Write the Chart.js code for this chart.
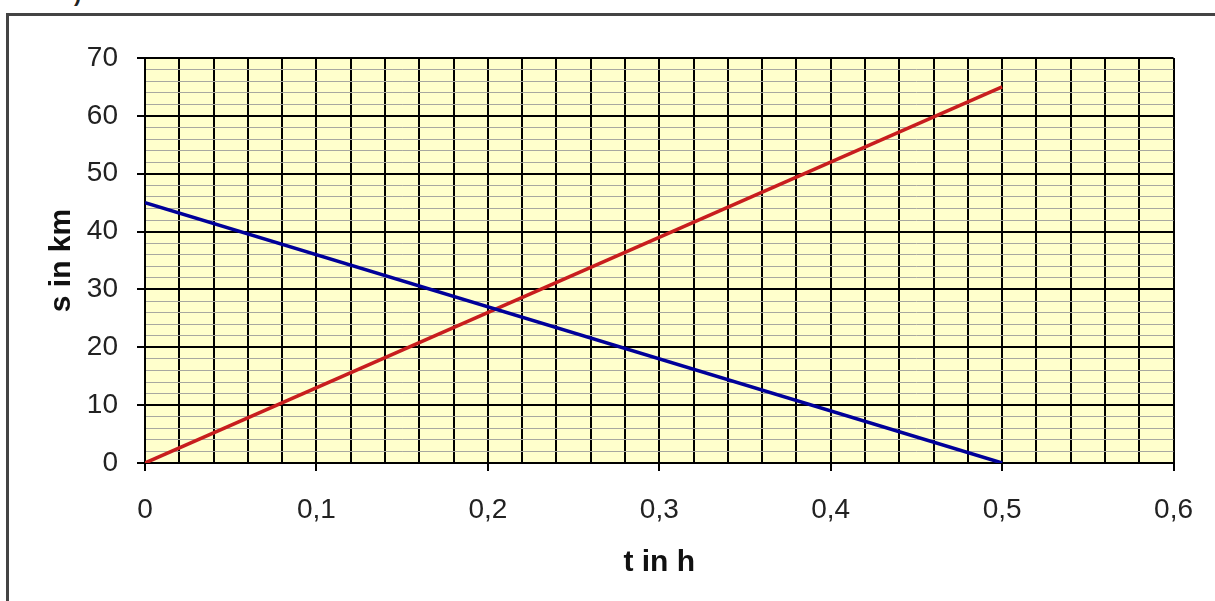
<!DOCTYPE html>
<html>
<head>
<meta charset="utf-8">
<title>s-t Diagramm</title>
<script src="https://cdn.jsdelivr.net/npm/chart.js@4/dist/chart.umd.min.js"></script>
<style>
  html, body { margin: 0; padding: 0; background: #fff; overflow: hidden; }
  #wrap { position: relative; width: 1215px; height: 601px; }
  #frame { position: absolute; left: 6px; top: 13px; width: 1300px; height: 700px; border: 3px solid #444; box-sizing: border-box; }
  #head { position: absolute; left: 74px; top: -19px; font: bold 22px 'Liberation Sans', Arial, sans-serif; color: #222; }
  canvas { position: absolute; left: 0; top: 0; }
</style>
</head>
<body>
<div id="wrap">
  <div id="head">)</div>
  <div id="frame"></div>
  <canvas id="chart" width="1215" height="601"></canvas>
</div>
<script>
// ── Data ──────────────────────────────────────────────────────────────────────
const tValues = [0, 0.5];          // t in h
const sRed = [0, 65];               // s in km
const sBlue = [45, 0];              // s in km
const xTicks = [0, 0.1, 0.2, 0.3, 0.4, 0.5, 0.6];
const yTicks = [0, 10, 20, 30, 40, 50, 60, 70];

const FONT = "'Liberation Sans', Arial, sans-serif";

const isMajorX = v => Math.abs(v * 10 - Math.round(v * 10)) < 1e-6;
const isMajorY = v => v % 10 === 0;

// ── Plot area background ──────────────────────────────────────────────────────
const areaBg = {
  id: 'areaBg',
  beforeDraw(chart) {
    const { ctx, chartArea: a } = chart;
    ctx.save();
    ctx.fillStyle = '#ffffcc';
    ctx.fillRect(a.left, a.top, a.right - a.left, a.bottom - a.top);
    ctx.restore();
  }
};

// ── Chart ─────────────────────────────────────────────────────────────────────
new Chart(document.getElementById('chart'), {
  type: 'scatter',
  data: {
    datasets: [
      {
        data: tValues.map((t, i) => ({ x: t, y: sRed[i] })),
        showLine: true, borderColor: '#c81e1e', borderWidth: 3.5, pointRadius: 0, order: 1
      },
      {
        data: tValues.map((t, i) => ({ x: t, y: sBlue[i] })),
        showLine: true, borderColor: '#000099', borderWidth: 3.5, pointRadius: 0, order: 0
      }
    ]
  },
  options: {
    responsive: false,
    animation: false,
    layout: { padding: { left: 0, top: 58, right: 40, bottom: 0 } },
    plugins: { legend: { display: false }, tooltip: { enabled: false } },
    scales: {
      x: {
        type: 'linear',
        min: xTicks[0], max: xTicks[xTicks.length - 1],
        afterFit: s => { s.height = 138; },
        border: { color: '#000', width: 2 },
        grid: {
          color: '#000', lineWidth: 2,
          tickLength: 8,
          tickColor: c => isMajorX(c.tick.value) ? '#000' : 'rgba(0,0,0,0)'
        },
        ticks: {
          stepSize: 0.02, autoSkip: false, maxRotation: 0, padding: 22,
          color: '#222', font: { family: FONT, size: 28 },
          callback: v => isMajorX(v) && xTicks.some(t => Math.abs(t - v) < 1e-6)
            ? String(Math.round(v * 10) / 10).replace('.', ',') : ''
        },
        title: {
          display: true, text: 't in h', color: '#111',
          font: { family: FONT, size: 30, weight: 'bold' }, padding: { top: 4, bottom: 20 }
        }
      },
      y: {
        min: yTicks[0], max: yTicks[yTicks.length - 1],
        afterFit: s => { s.width = 145; },
        border: { color: '#000', width: 2 },
        grid: {
          color: c => isMajorY(c.tick.value) ? '#000' : '#a8a8a0',
          lineWidth: c => isMajorY(c.tick.value) ? 2 : 1,
          tickLength: 8,
          tickColor: c => isMajorY(c.tick.value) ? '#000' : 'rgba(0,0,0,0)'
        },
        ticks: {
          stepSize: 2, autoSkip: false, padding: 19,
          color: '#222', font: { family: FONT, size: 28 },
          callback: v => yTicks.includes(v) ? String(v) : ''
        },
        title: {
          display: true, text: 's in km', color: '#111',
          font: { family: FONT, size: 30, weight: 'bold' }, padding: { top: 44, bottom: 4 }
        }
      }
    }
  },
  plugins: [areaBg]
});
</script>
</body>
</html>
